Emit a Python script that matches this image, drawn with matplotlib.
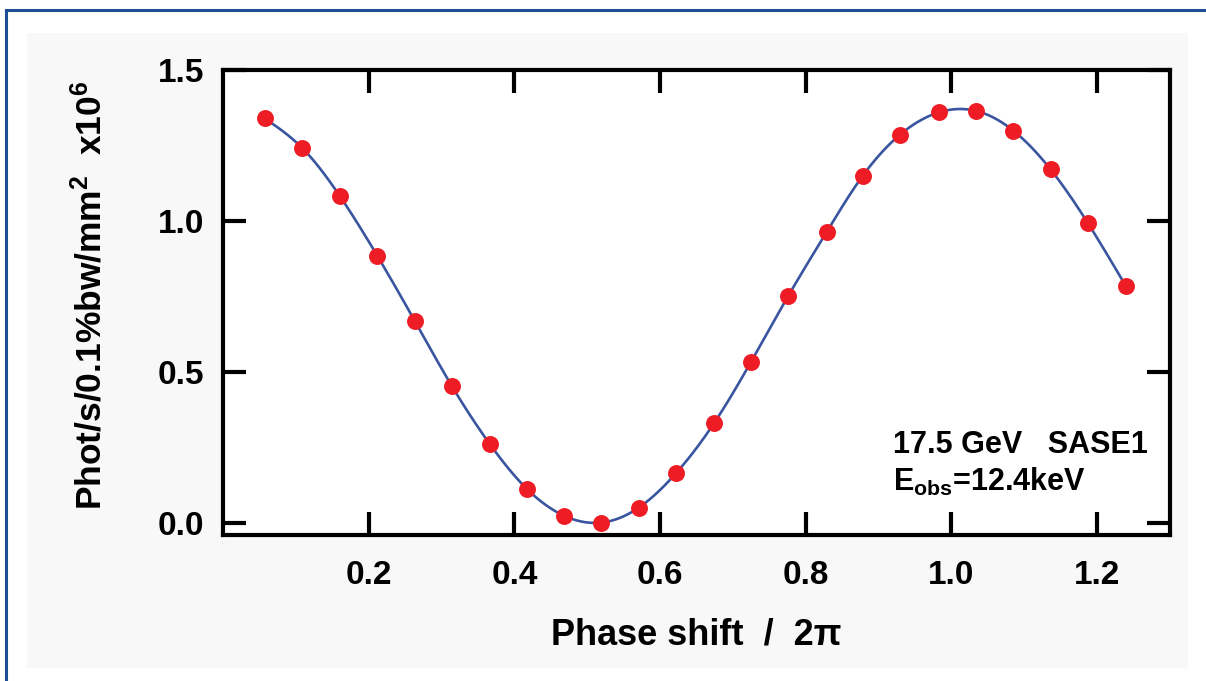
import numpy as np
import matplotlib
matplotlib.use("Agg")
import matplotlib.pyplot as plt
from matplotlib.lines import Line2D
from matplotlib.patches import Rectangle

# ---- data ----
phase = [0.057, 0.109, 0.160, 0.212, 0.263, 0.314, 0.366, 0.417, 0.468, 0.519,
         0.571, 0.622, 0.674, 0.725, 0.776, 0.829, 0.878, 0.929, 0.983, 1.033,
         1.085, 1.136, 1.187, 1.239]
flux = [1.340, 1.241, 1.084, 0.884, 0.670, 0.454, 0.262, 0.113, 0.024, 0.001,
        0.051, 0.165, 0.330, 0.534, 0.752, 0.965, 1.149, 1.285, 1.360, 1.365,
        1.299, 1.171, 0.994, 0.786]
xticks = [0.2, 0.4, 0.6, 0.8, 1.0, 1.2]
yticks = [0.0, 0.5, 1.0, 1.5]
xlabel = "Phase shift  /  2\u03c0"
ylabel = "Phot/s/0.1%bw/mm$^{2}$  x10$^{6}$"
note1 = "17.5 GeV   SASE1"
note2 = "E$_{obs}$=12.4keV"


def natural_spline(x, y, n=600):
    x = np.asarray(x, float)
    y = np.asarray(y, float)
    m = len(x)
    h = np.diff(x)
    A = np.zeros((m, m))
    b = np.zeros(m)
    A[0, 0] = 1
    A[-1, -1] = 1
    for i in range(1, m - 1):
        A[i, i - 1] = h[i - 1]
        A[i, i] = 2 * (h[i - 1] + h[i])
        A[i, i + 1] = h[i]
        b[i] = 3 * ((y[i + 1] - y[i]) / h[i] - (y[i] - y[i - 1]) / h[i - 1])
    c = np.linalg.solve(A, b)
    bb = (y[1:] - y[:-1]) / h - h * (2 * c[:-1] + c[1:]) / 3
    d = (c[1:] - c[:-1]) / (3 * h)
    xs = np.linspace(x[0], x[-1], n)
    idx = np.clip(np.searchsorted(x, xs) - 1, 0, m - 2)
    dx = xs - x[idx]
    ys = y[idx] + bb[idx] * dx + c[idx] * dx ** 2 + d[idx] * dx ** 3
    return xs, ys


plt.rcParams['font.family'] = ['Liberation Sans', 'DejaVu Sans']
plt.rcParams['font.weight'] = 'bold'
plt.rcParams['mathtext.fontset'] = 'custom'
plt.rcParams['mathtext.rm'] = 'Liberation Sans:bold'
plt.rcParams['mathtext.it'] = 'Liberation Sans:bold'
plt.rcParams['mathtext.bf'] = 'Liberation Sans:bold'
plt.rcParams['mathtext.sf'] = 'Liberation Sans:bold'

W, H = 1206, 681
fig = plt.figure(figsize=(W / 100, H / 100), dpi=100, facecolor='white')

# light panel and blue frame lines
fig.patches.append(Rectangle((27 / W, 1 - 668 / H), (1188 - 27) / W, (668 - 33) / H,
                             transform=fig.transFigure, facecolor='#f8f8f8',
                             edgecolor='none', zorder=-10))
fig.lines.append(Line2D([6 / W, 1.0], [1 - 10 / H, 1 - 10 / H], transform=fig.transFigure,
                        color='#1f4e96', lw=2.2, zorder=-5))
fig.lines.append(Line2D([6 / W, 6 / W], [1 - 10 / H, 0.0], transform=fig.transFigure,
                        color='#1f4e96', lw=2.2, zorder=-5))

ax = fig.add_axes([223 / W, 1 - 535 / H, (1170 - 223) / W, (535 - 70) / H])
ax.set_zorder(1)
ax.set_facecolor('white')

xs, ys = natural_spline(phase, flux)
ax.plot(xs, ys, color='#3a55a0', lw=1.9, zorder=2)
ax.plot(phase, flux, 'o', color='#ee1d25', markersize=12.2, markeredgewidth=0, zorder=3)

ax.set_xlim(0.0, 1.3)
ax.set_ylim(-0.04, 1.5)
ax.set_xticks(xticks)
ax.set_yticks(yticks)
ax.set_xticklabels([f"{v:.1f}" for v in xticks])
ax.set_yticklabels([f"{v:.1f}" for v in yticks])

for s in ax.spines.values():
    s.set_linewidth(3.0)
    s.set_color('black')
ax.tick_params(axis='both', which='major', direction='in', length=16.5, width=3.0,
               top=True, right=True, labelsize=24, colors='black')
ax.tick_params(axis='x', pad=18)
ax.tick_params(axis='y', pad=13.5)

ax.set_xlabel(xlabel, fontsize=26, fontweight='bold', labelpad=19)
ax.set_ylabel(ylabel, fontsize=25.5, fontweight='bold')
ax.yaxis.set_label_coords(-0.121, 0.515)

ax.text(0.7075, 0.176, note1, transform=ax.transAxes, fontsize=22, fontweight='bold',
        ha='left', va='baseline')
ax.text(0.7075, 0.095, note2, transform=ax.transAxes, fontsize=22, fontweight='bold',
        ha='left', va='baseline')

fig.savefig('out.png', dpi=100, facecolor=fig.get_facecolor())
